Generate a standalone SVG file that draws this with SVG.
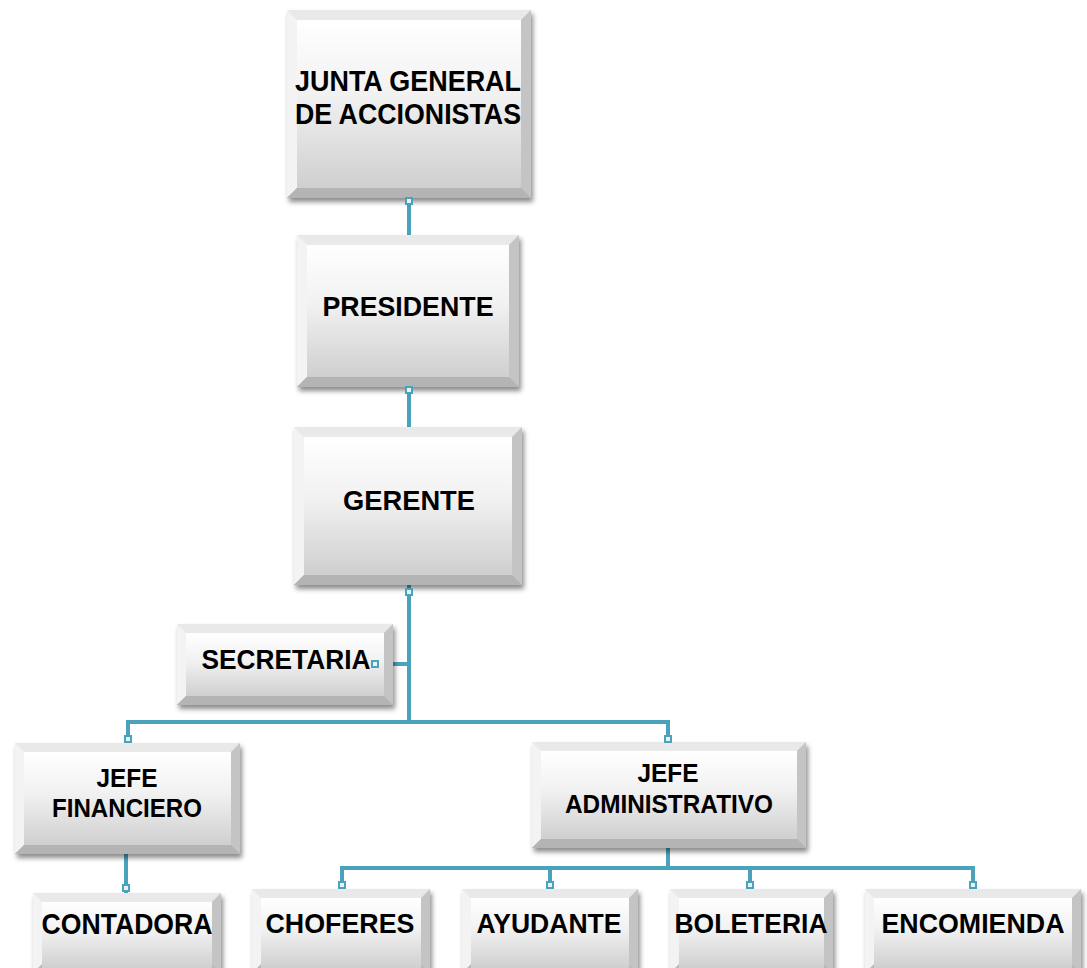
<svg xmlns="http://www.w3.org/2000/svg" width="1087" height="968" viewBox="0 0 1087 968">
  <style>
    .face { fill: url(#faceGrad); }
    .ring { fill: url(#ringGrad); filter: url(#shadow); }
    .bt { fill: #e9e9e9; }
    .bl { fill: #f3f3f3; }
    .br { fill: #c4c4c4; }
    .bb { fill: #b4b4b4; }
    .lbl { font-family: "Liberation Sans", Arial, sans-serif; font-weight: bold; fill: #000; text-anchor: middle; }
    .wire { stroke: #4aa2bd; stroke-width: 4; fill: none; }
    .tab { stroke: #4aa2bd; stroke-width: 2; fill: #e8f4f8; }
  </style>
  <defs>
    <linearGradient id="faceGrad" x1="0" y1="0" x2="0" y2="1">
      <stop offset="0" stop-color="#ffffff"/>
      <stop offset="0.45" stop-color="#f1f1f1"/>
      <stop offset="1" stop-color="#cfcfcf"/>
    </linearGradient>
    <linearGradient id="ringGrad" x1="0" y1="0" x2="0" y2="1">
      <stop offset="0" stop-color="#e6e6e6"/>
      <stop offset="1" stop-color="#b8b8b8"/>
    </linearGradient>
    <filter id="shadow" x="-10%" y="-10%" width="125%" height="130%">
      <feDropShadow dx="2" dy="4" stdDeviation="2.5" flood-color="#000" flood-opacity="0.45"/>
    </filter>
  </defs>

  <!-- connectors -->
  <g id="connectors">
    <path class="wire" d="M409 198 V235"/>
    <path class="wire" d="M409 387 V427"/>
    <path class="wire" d="M409 585 V724"/>
    <path class="wire" d="M376 664 H409"/>
    <path class="wire" d="M128 743 V722 H668 V742"/>
    <path class="wire" d="M126 854 V893"/>
    <path class="wire" d="M668 848 V868"/>
    <path class="wire" d="M342 889 V868 H973 V889"/>
    <path class="wire" d="M550 868 V889"/>
    <path class="wire" d="M750 868 V889"/>
  </g>

  <!-- JUNTA GENERAL DE ACCIONISTAS -->
  <g id="junta">
    <rect class="ring" x="287" y="10" width="244" height="188"/>
    <polygon class="bt" points="287,10 531,10 521,20 297,20"/>
    <polygon class="bl" points="287,10 297,20 297,188 287,198"/>
    <polygon class="br" points="531,10 531,198 521,188 521,20"/>
    <polygon class="bb" points="287,198 297,188 521,188 531,198"/>
    <rect class="face" x="297" y="20" width="224" height="168"/>
    <text class="lbl" x="408" y="91" font-size="29" textLength="226" lengthAdjust="spacingAndGlyphs">JUNTA GENERAL</text>
    <text class="lbl" x="408" y="124" font-size="29" textLength="226" lengthAdjust="spacingAndGlyphs">DE ACCIONISTAS</text>
  </g>

  <!-- PRESIDENTE -->
  <g id="presidente">
    <rect class="ring" x="297" y="235" width="222" height="152"/>
    <polygon class="bt" points="297,235 519,235 509,245 307,245"/>
    <polygon class="bl" points="297,235 307,245 307,377 297,387"/>
    <polygon class="br" points="519,235 519,387 509,377 509,245"/>
    <polygon class="bb" points="297,387 307,377 509,377 519,387"/>
    <rect class="face" x="307" y="245" width="202" height="132"/>
    <text class="lbl" x="408" y="316" font-size="28" textLength="171" lengthAdjust="spacingAndGlyphs">PRESIDENTE</text>
  </g>

  <!-- GERENTE -->
  <g id="gerente">
    <rect class="ring" x="294" y="427" width="228" height="158"/>
    <polygon class="bt" points="294,427 522,427 512,437 304,437"/>
    <polygon class="bl" points="294,427 304,437 304,575 294,585"/>
    <polygon class="br" points="522,427 522,585 512,575 512,437"/>
    <polygon class="bb" points="294,585 304,575 512,575 522,585"/>
    <rect class="face" x="304" y="437" width="208" height="138"/>
    <text class="lbl" x="409" y="510" font-size="28" textLength="132" lengthAdjust="spacingAndGlyphs">GERENTE</text>
  </g>

  <!-- SECRETARIA -->
  <g id="secretaria">
    <rect class="ring" x="177" y="624" width="216" height="81"/>
    <polygon class="bt" points="177,624 393,624 384,633 186,633"/>
    <polygon class="bl" points="177,624 186,633 186,696 177,705"/>
    <polygon class="br" points="393,624 393,705 384,696 384,633"/>
    <polygon class="bb" points="177,705 186,696 384,696 393,705"/>
    <rect class="face" x="186" y="633" width="198" height="63"/>
    <text class="lbl" x="286" y="669" font-size="27" textLength="169" lengthAdjust="spacingAndGlyphs">SECRETARIA</text>
  </g>

  <!-- JEFE FINANCIERO -->
  <g id="jefe-financiero">
    <rect class="ring" x="15" y="743" width="225" height="111"/>
    <polygon class="bt" points="15,743 240,743 231,752 24,752"/>
    <polygon class="bl" points="15,743 24,752 24,845 15,854"/>
    <polygon class="br" points="240,743 240,854 231,845 231,752"/>
    <polygon class="bb" points="15,854 24,845 231,845 240,854"/>
    <rect class="face" x="24" y="752" width="207" height="93"/>
    <text class="lbl" x="127" y="787" font-size="25" textLength="61" lengthAdjust="spacingAndGlyphs">JEFE</text>
    <text class="lbl" x="127" y="817" font-size="25" textLength="150" lengthAdjust="spacingAndGlyphs">FINANCIERO</text>
  </g>

  <!-- JEFE ADMINISTRATIVO -->
  <g id="jefe-administrativo">
    <rect class="ring" x="532" y="742" width="274" height="106"/>
    <polygon class="bt" points="532,742 806,742 797,751 541,751"/>
    <polygon class="bl" points="532,742 541,751 541,839 532,848"/>
    <polygon class="br" points="806,742 806,848 797,839 797,751"/>
    <polygon class="bb" points="532,848 541,839 797,839 806,848"/>
    <rect class="face" x="541" y="751" width="256" height="88"/>
    <text class="lbl" x="668" y="782" font-size="25" textLength="61" lengthAdjust="spacingAndGlyphs">JEFE</text>
    <text class="lbl" x="669" y="813" font-size="25" textLength="208" lengthAdjust="spacingAndGlyphs">ADMINISTRATIVO</text>
  </g>

  <!-- CONTADORA -->
  <g id="contadora">
    <rect class="ring" x="33" y="893" width="188" height="80"/>
    <polygon class="bt" points="33,893 221,893 212,902 42,902"/>
    <polygon class="bl" points="33,893 42,902 42,964 33,973"/>
    <polygon class="br" points="221,893 221,973 212,964 212,902"/>
    <rect class="face" x="42" y="902" width="170" height="66"/>
    <text class="lbl" x="127" y="934" font-size="30" textLength="171" lengthAdjust="spacingAndGlyphs">CONTADORA</text>
  </g>

  <!-- CHOFERES -->
  <g id="choferes">
    <rect class="ring" x="252" y="889" width="178" height="84"/>
    <polygon class="bt" points="252,889 430,889 421,898 261,898"/>
    <polygon class="bl" points="252,889 261,898 261,964 252,973"/>
    <polygon class="br" points="430,889 430,973 421,964 421,898"/>
    <rect class="face" x="261" y="898" width="160" height="70"/>
    <text class="lbl" x="340" y="933" font-size="28" textLength="149" lengthAdjust="spacingAndGlyphs">CHOFERES</text>
  </g>

  <!-- AYUDANTE -->
  <g id="ayudante">
    <rect class="ring" x="462" y="889" width="176" height="84"/>
    <polygon class="bt" points="462,889 638,889 629,898 471,898"/>
    <polygon class="bl" points="462,889 471,898 471,964 462,973"/>
    <polygon class="br" points="638,889 638,973 629,964 629,898"/>
    <rect class="face" x="471" y="898" width="158" height="70"/>
    <text class="lbl" x="549" y="933" font-size="28" textLength="145" lengthAdjust="spacingAndGlyphs">AYUDANTE</text>
  </g>

  <!-- BOLETERIA -->
  <g id="boleteria">
    <rect class="ring" x="670" y="889" width="163" height="84"/>
    <polygon class="bt" points="670,889 833,889 824,898 679,898"/>
    <polygon class="bl" points="670,889 679,898 679,964 670,973"/>
    <polygon class="br" points="833,889 833,973 824,964 824,898"/>
    <rect class="face" x="679" y="898" width="145" height="70"/>
    <text class="lbl" x="751" y="933" font-size="28" textLength="153" lengthAdjust="spacingAndGlyphs">BOLETERIA</text>
  </g>

  <!-- ENCOMIENDA -->
  <g id="encomienda">
    <rect class="ring" x="865" y="889" width="216" height="84"/>
    <polygon class="bt" points="865,889 1081,889 1072,898 874,898"/>
    <polygon class="bl" points="865,889 874,898 874,964 865,973"/>
    <polygon class="br" points="1081,889 1081,973 1072,964 1072,898"/>
    <rect class="face" x="874" y="898" width="198" height="70"/>
    <text class="lbl" x="973" y="933" font-size="28" textLength="183" lengthAdjust="spacingAndGlyphs">ENCOMIENDA</text>
  </g>

  <!-- connector end tabs -->
  <g id="tabs">
    <rect class="tab" x="406" y="198" width="6" height="6"/>
    <rect class="tab" x="406" y="387" width="6" height="6"/>
    <rect class="tab" x="406" y="589" width="6" height="6"/>
    <rect class="tab" x="372" y="661" width="6" height="6"/>
    <rect class="tab" x="125" y="736" width="6" height="6"/>
    <rect class="tab" x="665" y="736" width="6" height="6"/>
    <rect class="tab" x="123" y="885" width="6" height="6"/>
    <rect class="tab" x="339" y="882" width="6" height="6"/>
    <rect class="tab" x="547" y="882" width="6" height="6"/>
    <rect class="tab" x="747" y="882" width="6" height="6"/>
    <rect class="tab" x="970" y="882" width="6" height="6"/>
  </g>
</svg>
